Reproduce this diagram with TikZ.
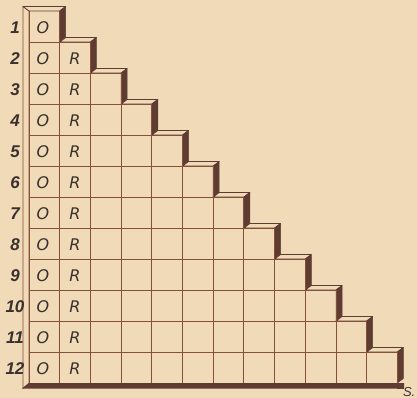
\documentclass[tikz,border=0pt]{standalone}
\usepackage{fontspec}
\setmainfont{Liberation Sans}
\newfontfamily\lettfont{DejaVu Sans}
\usetikzlibrary{calc}
\definecolor{ST_PAPER}{HTML}{F0DAB7}
\definecolor{ST_LINE}{HTML}{84503A}
\definecolor{ST_DARK}{HTML}{5E3C32}
\definecolor{ST_TEXT}{HTML}{3A302E}
\tikzset{
  gridline/.style={draw=ST_LINE, line width=0.9pt},
  topface/.style={fill=ST_PAPER, draw=ST_DARK, line width=0.8pt, line join=round},
  sideface/.style={fill=ST_DARK, draw=ST_DARK, line width=0.5pt, line join=round},
  rownum/.style={font=\fontsize{17}{17}\selectfont\bfseries\itshape, text=ST_TEXT, inner sep=0pt},
  letter/.style={font=\lettfont\fontsize{16}{16}\selectfont\itshape, text=ST_TEXT, inner sep=0pt},
}
\newcommand{\colw}{30.7}
\newcommand{\rowh}{31}

\begin{document}
\begin{tikzpicture}[x=1pt,y=-1pt]

  \fill[ST_PAPER] (0,0) rectangle (417,398);
  \useasboundingbox (0,0) rectangle (417,398);

  % left strip and base
  \filldraw[fill=ST_PAPER, draw=ST_LINE, line width=0.6pt]
    (23,6.5) -- (29,11) -- (29,383) -- (23,388.5) -- cycle;
  \fill[ST_DARK] (22,388.5) -- (29,383) -- (404,383) -- (404,388.5) -- cycle;

  % steps: top face and dark side face
  \foreach \n in {1,...,12} {
    \pgfmathsetmacro{\xa}{29+\colw*(\n-1)}
    \pgfmathsetmacro{\xb}{29+\colw*\n}
    \pgfmathsetmacro{\ya}{11+\rowh*(\n-1)}
    \pgfmathsetmacro{\yb}{11+\rowh*\n}
    \ifnum\n=1
      \filldraw[topface] (23,6.5) -- (\xa,\ya) -- (\xb,\ya) -- (\xb+6,\ya-4.5) -- cycle;
    \else
      \filldraw[topface] (\xa,\ya) -- (\xb,\ya) -- (\xb+6,\ya-4.5) -- (\xa+6,\ya-4.5) -- cycle;
    \fi
    \filldraw[sideface] (\xb,\ya) -- (\xb+6,\ya-4.5) -- (\xb+6,\yb-4.5) -- (\xb,\yb) -- cycle;
  }
  \fill[ST_DARK] (\colw*12+29,383) rectangle (404,388.5);

  % grid
  \foreach \j in {1,...,11} {
    \pgfmathsetmacro{\yy}{11+\rowh*\j}
    \pgfmathsetmacro{\xe}{29+\colw*(\j+1)}
    \draw[gridline] (29,\yy) -- (\xe,\yy);
  }
  \foreach \i in {0,...,12} {
    \pgfmathsetmacro{\xx}{29+\colw*\i}
    \pgfmathsetmacro{\ys}{11+\rowh*max(\i-1,0)}
    \draw[gridline] (\xx,\ys) -- (\xx,383);
  }

  % labels
  \foreach \n in {1,...,12} {
    \pgfmathsetmacro{\yc}{11+\rowh*(\n-1)+17}
    \node[rownum] (num\n) at (15,\yc) {\n};
    \node[letter] (o\n) at (43,\yc) {O};
  }
  \foreach \n in {2,...,12} {
    \pgfmathsetmacro{\yc}{11+\rowh*(\n-1)+17}
    \node[letter] (r\n) at (75,\yc) {R};
  }
  \node[rownum, font=\fontsize{13}{13}\selectfont\itshape, anchor=south east] (sig) at (415.5,396.5) {S.};

\end{tikzpicture}
\end{document}
